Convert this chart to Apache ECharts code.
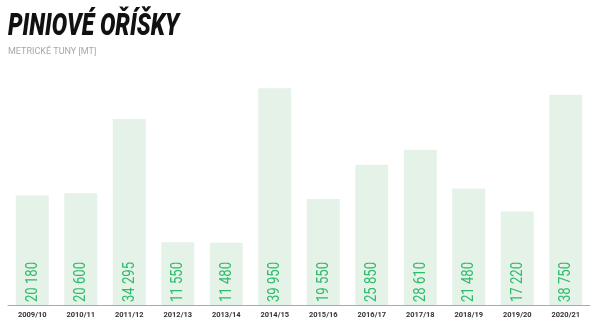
<!DOCTYPE html>
<html><head><meta charset="utf-8">
<script src="https://cdn.jsdelivr.net/npm/echarts@6/dist/echarts.min.js"></script>
<style>html,body{margin:0;padding:0;background:#fff}#c{width:600px;height:325px}</style>
</head><body><div id="c"></div>
<script>
const categories = ['2009/10','2010/11','2011/12','2012/13','2013/14','2014/15','2015/16','2016/17','2017/18','2018/19','2019/20','2020/21'];
const values = [20180,20600,34295,11550,11480,39950,19550,25850,28610,21480,17220,38750];
const titleText = 'PINIOVÉ OŘÍŠKY';
const subtitleText = 'METRICKÉ TUNY [MT]';

const fmt = v => String(v).replace(/\B(?=(\d{3})+(?!\d))/g,' ');
const chart = echarts.init(document.getElementById('c'), null, {renderer:'canvas'});
chart.setOption({
  animation:false,
  graphic:[
    {type:'text', x:8, y:27, scaleX:0.72, originX:0, originY:0,
     style:{text:titleText, font:'italic 900 32px Roboto', fill:'#111', align:'left', verticalAlign:'middle'}},
    {type:'text', x:8, y:52,
     style:{text:subtitleText, font:'400 9px Roboto', fill:'#a8a8a8', align:'left', verticalAlign:'middle'}}
  ],
  grid:{left:8, right:10, top:88, bottom:20, containLabel:false},
  xAxis:{
    type:'category', data:categories,
    axisLine:{lineStyle:{color:'#aaaaaa', width:1}},
    axisTick:{show:false},
    axisLabel:{fontFamily:'Roboto', fontSize:7.5, fontWeight:'bold', color:'#333', margin:6}
  },
  yAxis:{type:'value', min:0, max:40000, show:false, splitLine:{show:false}},
  series:[{
    type:'bar', data:values, barCategoryGap:'32%',
    itemStyle:{color:'#e5f2e7'}
  },{
    type:'custom', data:values.map((v,i)=>[i,v]), z:5,
    renderItem:(params, api)=>{
      const p = api.coord([api.value(0), 0]);
      return {type:'text', x:p[0], y:p[1]-3, rotation:Math.PI/2, scaleX:0.77,
        style:{text:fmt(api.value(1)), font:'400 17px Roboto', fill:'#2fbc6c', align:'left', verticalAlign:'middle'}};
    }
  }]
});
</script></body></html>
